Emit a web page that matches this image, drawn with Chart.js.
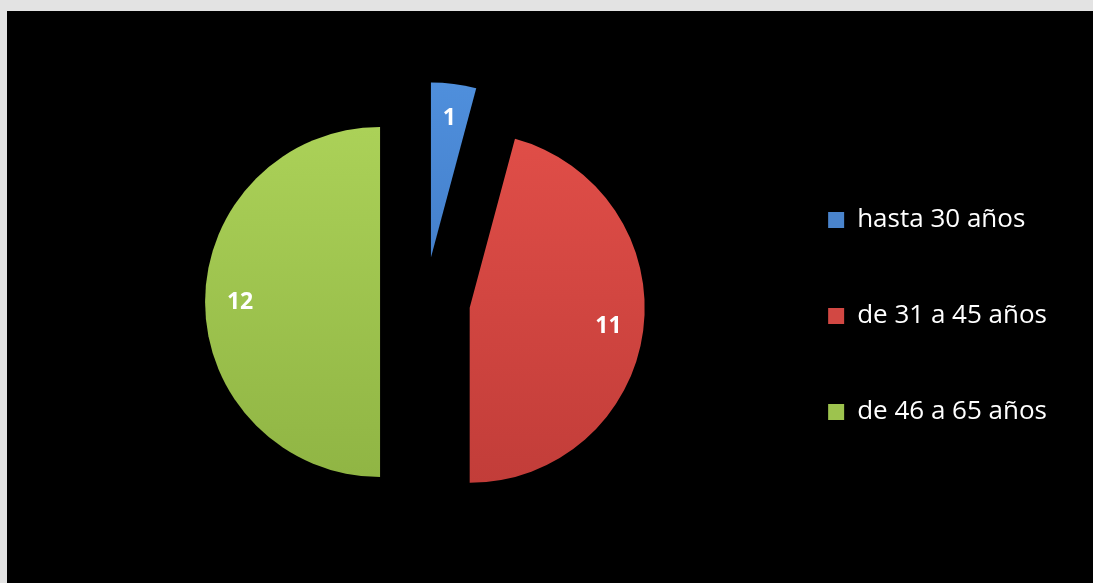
<!DOCTYPE html>
<html>
<head>
<meta charset="utf-8">
<script src="https://cdn.jsdelivr.net/npm/chart.js@4"></script>
<style>
  body { margin: 0; background: #e3e3e3; }
  #marco { position: absolute; left: 7px; top: 11px; width: 1086px; height: 572px; background: #000; }
</style>
</head>
<body>
<div id="marco"><canvas id="edadChart" width="1086" height="572"></canvas></div>
<script>
// categorías y valores
const categorias = ['hasta 30 años', 'de 31 a 45 años', 'de 46 a 65 años'];
const valores = [1, 11, 12];

// colores (arriba / abajo del degradado, y color plano para la leyenda)
const coloresArriba = ['#4f8fdc', '#e04e48', '#abd158'];
const coloresAbajo = ['#3a72bd', '#c23d39', '#90b544'];
const coloresLeyenda = ['#4a84cc', '#d24843', '#9dc34e'];

const RADIO = 175;       // radio del pastel
const SEPARACION = 45;   // desplazamiento de cada porción

// dibuja cada porción desplazada hacia fuera
const separarPorciones = {
    id: 'separarPorciones',
    beforeDatasetDraw(chart, args) {
        const ctx = chart.ctx;
        args.meta.data.forEach(arc => {
            const medio = (arc.startAngle + arc.endAngle) / 2;
            ctx.save();
            ctx.translate(Math.cos(medio) * SEPARACION, Math.sin(medio) * SEPARACION);
            arc.draw(ctx, chart.chartArea);
            ctx.restore();
        });
        return false; // no dibujar de nuevo
    }
};

// etiquetas con el valor dentro de cada porción
const etiquetasValor = {
    id: 'etiquetasValor',
    afterDatasetsDraw(chart) {
        const ctx = chart.ctx;
        const meta = chart.getDatasetMeta(0);
        ctx.save();
        ctx.fillStyle = '#ffffff';
        ctx.font = 'bold 23px "Open Sans"';
        ctx.textAlign = 'center';
        ctx.textBaseline = 'middle';
        meta.data.forEach((arc, i) => {
            const medio = (arc.startAngle + arc.endAngle) / 2;
            const d = SEPARACION + arc.outerRadius * 0.8;
            ctx.fillText(String(valores[i]), arc.x + Math.cos(medio) * d, arc.y + Math.sin(medio) * d);
        });
        ctx.restore();
    }
};

const ctx = document.getElementById('edadChart').getContext('2d');
const edadChart = new Chart(ctx, {
    type: 'pie',
    data: {
        labels: categorias,
        datasets: [{
            data: valores,
            backgroundColor: (c) => {
                const area = c.chart.chartArea;
                if (!area) return coloresLeyenda[c.dataIndex];
                const cy = (area.top + area.bottom) / 2;
                const g = c.chart.ctx.createLinearGradient(0, cy - RADIO, 0, cy + RADIO);
                g.addColorStop(0, coloresArriba[c.dataIndex]);
                g.addColorStop(1, coloresAbajo[c.dataIndex]);
                return g;
            },
            borderWidth: 0
        }]
    },
    options: {
        responsive: false,
        animation: false,
        radius: RADIO,
        layout: { padding: { left: 85, top: 10, right: 36, bottom: 0 } },
        plugins: {
            tooltip: { enabled: false },
            legend: {
                position: 'right',
                title: { display: true, text: '', font: { size: 10, lineHeight: 1 }, padding: 9 },
                labels: {
                    color: '#ffffff',
                    font: { family: '"Open Sans"', size: 26 },
                    boxWidth: 16,
                    boxHeight: 16,
                    padding: 70,
                    generateLabels: (chart) => {
                        const items = Chart.controllers.pie.overrides.plugins.legend.labels.generateLabels(chart);
                        items.forEach((it, i) => {
                            it.fillStyle = coloresLeyenda[i];
                            it.strokeStyle = coloresLeyenda[i];
                            it.lineWidth = 0;
                        });
                        return items;
                    }
                }
            }
        }
    },
    plugins: [separarPorciones, etiquetasValor]
});
</script>
</body>
</html>
